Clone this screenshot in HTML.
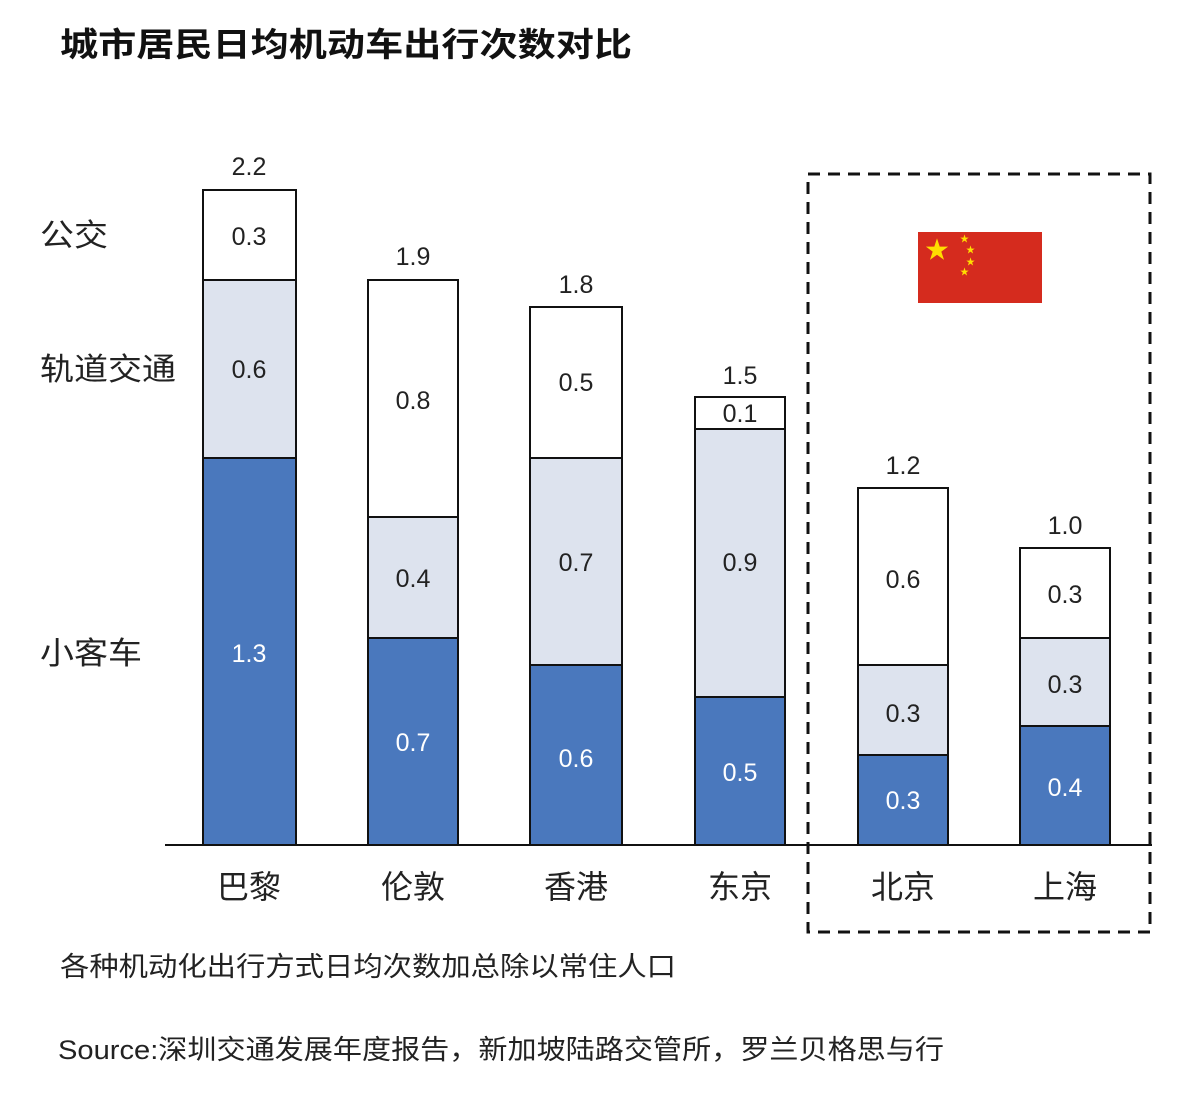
<!DOCTYPE html>
<html><head><meta charset="utf-8"><style>
body{margin:0;background:#fff;}
text{font-family:"Liberation Sans","Noto Sans CJK SC",sans-serif;}
</style></head><body>
<svg width="1196" height="1092" viewBox="0 0 1196 1092" xmlns="http://www.w3.org/2000/svg">
<rect width="1196" height="1092" fill="#fff"/>
<text x="60" y="56" font-size="33" font-weight="bold" fill="#111" textLength="572" lengthAdjust="spacingAndGlyphs">城市居民日均机动车出行次数对比</text>
<g font-size="31" fill="#222">
<text x="40" y="246" textLength="68" lengthAdjust="spacingAndGlyphs">公交</text>
<text x="40" y="380" textLength="136" lengthAdjust="spacingAndGlyphs">轨道交通</text>
<text x="40" y="664" textLength="102" lengthAdjust="spacingAndGlyphs">小客车</text>
</g>
<g stroke="#111" stroke-width="2">
<rect x="203" y="458" width="93" height="387" fill="#4a78bd"/>
<rect x="203" y="280" width="93" height="178" fill="#dde3ee"/>
<rect x="203" y="190" width="93" height="90" fill="#fff"/>
<rect x="368" y="638" width="90" height="207" fill="#4a78bd"/>
<rect x="368" y="517" width="90" height="121" fill="#dde3ee"/>
<rect x="368" y="280" width="90" height="237" fill="#fff"/>
<rect x="530" y="665" width="92" height="180" fill="#4a78bd"/>
<rect x="530" y="458" width="92" height="207" fill="#dde3ee"/>
<rect x="530" y="307" width="92" height="151" fill="#fff"/>
<rect x="695" y="697" width="90" height="148" fill="#4a78bd"/>
<rect x="695" y="429" width="90" height="268" fill="#dde3ee"/>
<rect x="695" y="397" width="90" height="32" fill="#fff"/>
<rect x="858" y="755" width="90" height="90" fill="#4a78bd"/>
<rect x="858" y="665" width="90" height="90" fill="#dde3ee"/>
<rect x="858" y="488" width="90" height="177" fill="#fff"/>
<rect x="1020" y="726" width="90" height="119" fill="#4a78bd"/>
<rect x="1020" y="638" width="90" height="88" fill="#dde3ee"/>
<rect x="1020" y="548" width="90" height="90" fill="#fff"/>
</g>
<line x1="165" y1="845" x2="1152" y2="845" stroke="#111" stroke-width="2"/>
<rect x="808" y="174" width="342" height="758" fill="none" stroke="#111" stroke-width="3" stroke-dasharray="12,8"/>
<rect x="918" y="232" width="124" height="71" fill="#d52b1e"/>
<text x="937" y="258" font-size="24" fill="#ffde00" text-anchor="middle">★</text>
<g fill="#ffde00" font-size="9"><text x="960" y="242">★</text><text x="966" y="253">★</text><text x="966" y="265">★</text><text x="960" y="275">★</text></g>
<g font-size="25" fill="#222" text-anchor="middle">
<text x="249" y="175">2.2</text><text x="413" y="265">1.9</text><text x="576" y="293">1.8</text>
<text x="740" y="384">1.5</text><text x="903" y="474">1.2</text><text x="1065" y="534">1.0</text>
<text x="249" y="245">0.3</text><text x="249" y="378">0.6</text>
<text x="413" y="409">0.8</text><text x="413" y="587">0.4</text>
<text x="576" y="391">0.5</text><text x="576" y="571">0.7</text>
<text x="740" y="422">0.1</text><text x="740" y="571">0.9</text>
<text x="903" y="588">0.6</text><text x="903" y="722">0.3</text>
<text x="1065" y="603">0.3</text><text x="1065" y="693">0.3</text>
</g>
<g font-size="25" fill="#fff" text-anchor="middle">
<text x="249" y="662">1.3</text><text x="413" y="751">0.7</text><text x="576" y="767">0.6</text>
<text x="740" y="781">0.5</text><text x="903" y="809">0.3</text><text x="1065" y="796">0.4</text>
</g>
<g font-size="32" fill="#222" text-anchor="middle">
<text x="249" y="898">巴黎</text><text x="413" y="898">伦敦</text><text x="576" y="898">香港</text>
<text x="740" y="898">东京</text><text x="903" y="898">北京</text><text x="1065" y="898">上海</text>
</g>
<text x="60" y="976" font-size="27" fill="#222" textLength="616" lengthAdjust="spacingAndGlyphs">各种机动化出行方式日均次数加总除以常住人口</text>
<text x="58" y="1059" font-size="27" fill="#222" textLength="886" lengthAdjust="spacingAndGlyphs">Source:深圳交通发展年度报告，新加坡陆路交管所，罗兰贝格思与行</text>
</svg>
</body></html>
